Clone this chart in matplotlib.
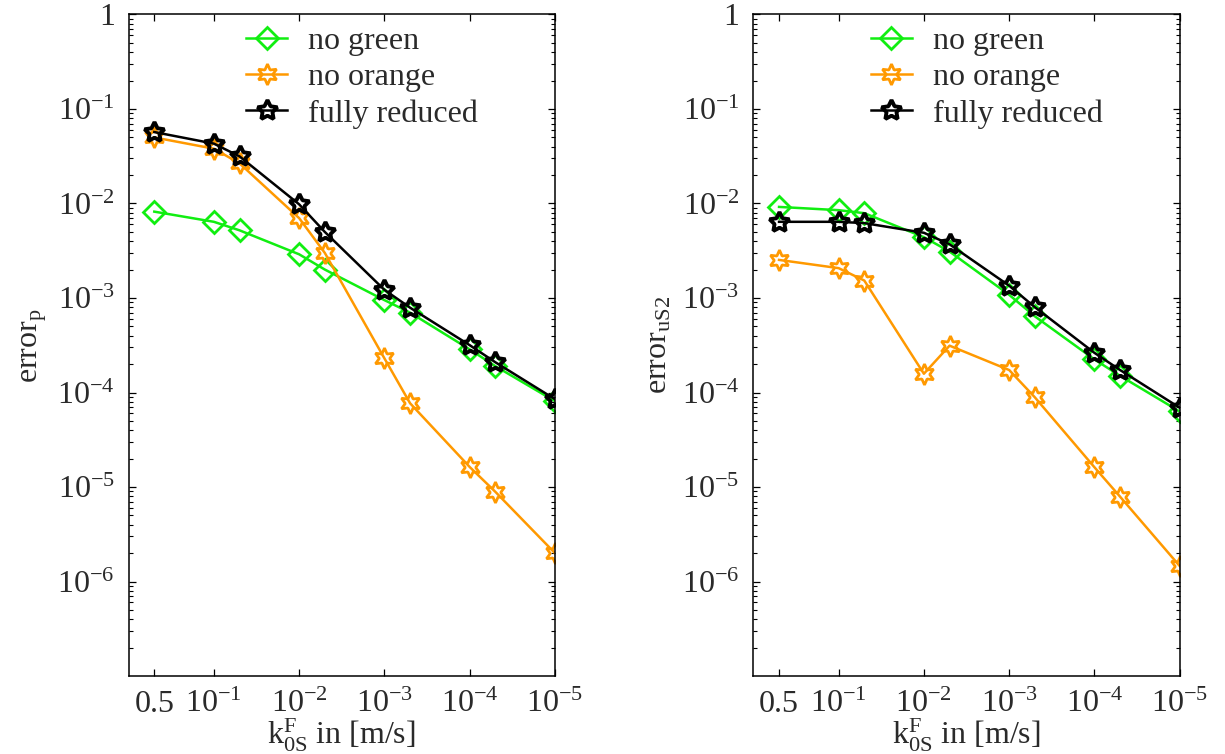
import matplotlib
matplotlib.use("Agg")
import matplotlib.pyplot as plt
import numpy as np

# ---- data ----
k_values = [0.5, 0.1, 0.05, 0.01, 0.005, 0.001, 5e-4, 1e-4, 5e-5, 1e-5]

p_no_green = [8.2e-3, 6.4e-3, 5.2e-3, 2.9e-3, 2.0e-3, 9.5e-4, 7.0e-4, 2.86e-4, 1.9e-4, 8.1e-5]
p_no_orange = [5.0e-2, 3.8e-2, 2.66e-2, 7.0e-3, 3.0e-3, 2.3e-4, 7.7e-5, 1.63e-5, 8.9e-6, 2.0e-6]
p_fully = [5.7e-2, 4.3e-2, 3.15e-2, 9.8e-3, 5.0e-3, 1.22e-3, 7.9e-4, 3.17e-4, 2.09e-4, 8.5e-5]

u_no_green = [9.2e-3, 8.5e-3, 7.9e-3, 4.4e-3, 3.1e-3, 1.08e-3, 6.4e-4, 2.24e-4, 1.5e-4, 6.3e-5]
u_no_orange = [2.53e-3, 2.07e-3, 1.53e-3, 1.58e-4, 3.13e-4, 1.73e-4, 8.9e-5, 1.62e-5, 7.9e-6, 1.46e-6]
u_fully = [6.4e-3, 6.4e-3, 6.2e-3, 4.9e-3, 3.7e-3, 1.35e-3, 8.0e-4, 2.63e-4, 1.73e-4, 6.9e-5]

series_labels = ["no green", "no orange", "fully reduced"]
x_tick_vals = [0.5, 1e-1, 1e-2, 1e-3, 1e-4, 1e-5]
x_tick_labels = ["0.5", r"$10^{-1}$", r"$10^{-2}$", r"$10^{-3}$", r"$10^{-4}$", r"$10^{-5}$"]
y_tick_vals = [1, 1e-1, 1e-2, 1e-3, 1e-4, 1e-5, 1e-6]
y_tick_labels = ["1", r"$10^{-1}$", r"$10^{-2}$", r"$10^{-3}$", r"$10^{-4}$", r"$10^{-5}$", r"$10^{-6}$"]

# ---- style ----
plt.rcParams['font.family'] = ['Liberation Serif', 'DejaVu Serif']
plt.rcParams['mathtext.fontset'] = 'custom'
plt.rcParams['mathtext.rm'] = 'Liberation Serif'
plt.rcParams['mathtext.it'] = 'Liberation Serif:italic'
plt.rcParams['mathtext.bf'] = 'Liberation Serif:bold'

FS = 23
TXT = '#2a2a2a'
GREEN = '#11ee11'
ORANGE = '#ff9900'

fig = plt.figure(figsize=(12.25, 7.54), dpi=100)
ax1 = fig.add_axes([0.105, 0.1034, 0.348, 0.8774])
ax2 = fig.add_axes([0.615, 0.1034, 0.348, 0.8774])

hexagram = (6, 1, 0)
pentagram = (5, 1, 0)


def draw(ax, g, o, f, ylabel):
    ax.plot(k_values, g, color=GREEN, lw=1.8, marker='D', ms=11, mfc='none',
            mec=GREEN, mew=2.0, label=series_labels[0])
    ax.plot(k_values, o, color=ORANGE, lw=1.8, marker=hexagram, ms=15, mfc='none',
            mec=ORANGE, mew=2.0, label=series_labels[1])
    ax.plot(k_values, f, color='black', lw=1.8, marker=pentagram, ms=15, mfc='none',
            mec='black', mew=2.8, label=series_labels[2])
    ax.set_xscale('log')
    ax.set_yscale('log')
    ax.set_xlim(1, 1e-5)
    ax.set_ylim(1e-7, 1)
    ax.set_xticks(x_tick_vals)
    ax.set_xticklabels(x_tick_labels)
    ax.set_yticks(y_tick_vals)
    ax.set_yticklabels(y_tick_labels)
    ax.tick_params(which='both', direction='in', top=True, right=True,
                   labelsize=FS, colors='black')
    ax.tick_params(which='major', length=5, width=0.9, pad=10)
    ax.tick_params(which='minor', length=3, width=0.8)
    for lbl in ax.get_xticklabels() + ax.get_yticklabels():
        lbl.set_color(TXT)
    for s in ax.spines.values():
        s.set_linewidth(1.1)
    ax.set_xlabel(r"$\mathrm{k}^{\mathrm{F}}_{\mathrm{0S}}$ in [m/s]", fontsize=FS,
                  labelpad=-2, color=TXT)
    ax.set_ylabel(ylabel, fontsize=FS, labelpad=6, color=TXT)
    leg = ax.legend(loc='upper left', bbox_to_anchor=(0.275, 0.982), frameon=False,
                    fontsize=FS, handlelength=1.3, handletextpad=0.65, labelspacing=0.22,
                    borderpad=0.0, borderaxespad=0.0, numpoints=1)
    for t in leg.get_texts():
        t.set_color(TXT)


draw(ax1, p_no_green, p_no_orange, p_fully, r"error$_{\mathrm{p}}$")
draw(ax2, u_no_green, u_no_orange, u_fully, r"error$_{\mathrm{uS2}}$")

fig.savefig("out.png", dpi=100)
